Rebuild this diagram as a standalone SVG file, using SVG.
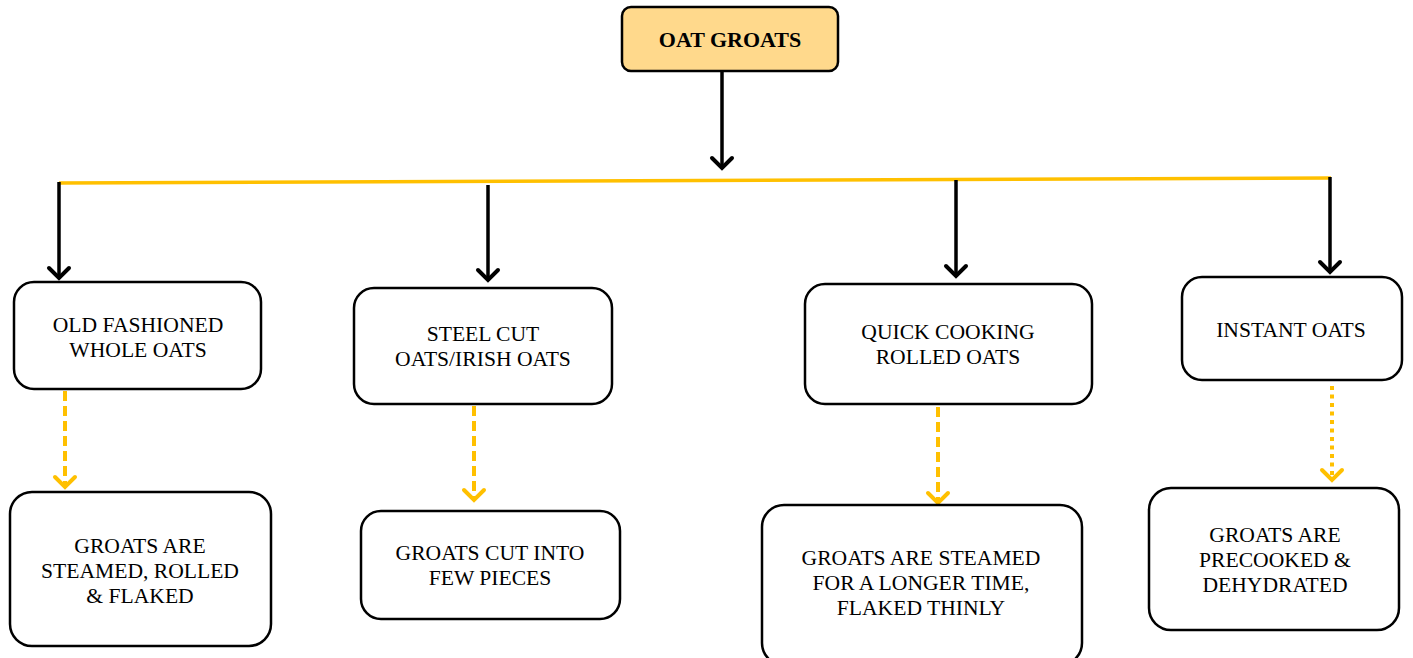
<svg xmlns="http://www.w3.org/2000/svg" width="1413" height="658" viewBox="0 0 1413 658">
<style>
.box{fill:#fff;stroke:#000;stroke-width:2.5}
.top{fill:#FFD98C;stroke:#000;stroke-width:2.5}
.t{font-family:"Liberation Serif","Times New Roman",serif;font-size:21.6px;fill:#000;text-anchor:middle}
.tb{font-family:"Liberation Serif","Times New Roman",serif;font-size:22px;font-weight:bold;fill:#000;text-anchor:middle}
.blk{stroke:#000;stroke-width:3.5;fill:none}
.yel{stroke:#FFC000;stroke-width:3.5;fill:none}
.dash{stroke:#FFC000;stroke-width:4;fill:none;stroke-dasharray:10 5}
.dot{stroke:#FFC000;stroke-width:4;fill:none;stroke-dasharray:4 4.5}
</style>
<defs>
<marker id="ab" markerUnits="userSpaceOnUse" viewBox="-14 -14 28 28" markerWidth="28" markerHeight="28" refX="0" refY="0" orient="auto">
<path d="M-11,-10 L-1,0 L-11,10" fill="none" stroke="#000" stroke-width="4" stroke-linecap="round" stroke-linejoin="miter"/>
</marker>
<marker id="ay" markerUnits="userSpaceOnUse" viewBox="-14 -14 28 28" markerWidth="28" markerHeight="28" refX="0" refY="0" orient="auto">
<path d="M-11,-10 L-1,0 L-11,10" fill="none" stroke="#FFC000" stroke-width="4" stroke-linecap="round" stroke-linejoin="miter"/>
</marker>
</defs>
<g id="connectors">
<line class="blk" x1="722" y1="72" x2="722" y2="169" marker-end="url(#ab)"/>
<line class="yel" x1="59" y1="183" x2="1331" y2="178"/>
<line class="blk" x1="59" y1="182" x2="59" y2="279" marker-end="url(#ab)"/>
<line class="blk" x1="488" y1="185" x2="488" y2="281" marker-end="url(#ab)"/>
<line class="blk" x1="956" y1="180" x2="956" y2="277" marker-end="url(#ab)"/>
<line class="blk" x1="1330" y1="177" x2="1330" y2="273" marker-end="url(#ab)"/>
<line class="dash" x1="65" y1="391" x2="65" y2="488" marker-end="url(#ay)"/>
<line class="dash" x1="474" y1="406" x2="474" y2="501" marker-end="url(#ay)"/>
<line class="dash" x1="938" y1="407" x2="938" y2="504" marker-end="url(#ay)"/>
<line class="dot" x1="1332" y1="386" x2="1332" y2="481" marker-end="url(#ay)"/>
</g>
<g id="oat-groats">
<rect class="top" x="622" y="7" width="216" height="64" rx="9"/>
<text class="tb" x="730" y="47">OAT GROATS</text>
</g>
<g id="old-fashioned">
<rect class="box" x="14" y="282" width="247" height="107" rx="20"/>
<text class="t" x="138" y="332">OLD FASHIONED</text>
<text class="t" x="138" y="357">WHOLE OATS</text>
</g>
<g id="steel-cut">
<rect class="box" x="354" y="288" width="258" height="116" rx="20"/>
<text class="t" x="483" y="341">STEEL CUT</text>
<text class="t" x="483" y="366">OATS/IRISH OATS</text>
</g>
<g id="quick-cooking">
<rect class="box" x="805" y="284" width="287" height="120" rx="20"/>
<text class="t" x="948" y="339">QUICK COOKING</text>
<text class="t" x="948" y="364">ROLLED OATS</text>
</g>
<g id="instant">
<rect class="box" x="1182" y="277" width="220" height="103" rx="20"/>
<text class="t" x="1291" y="337">INSTANT OATS</text>
</g>
<g id="steamed-rolled">
<rect class="box" x="10" y="492" width="261" height="154" rx="22"/>
<text class="t" x="140" y="553">GROATS ARE</text>
<text class="t" x="140" y="578">STEAMED, ROLLED</text>
<text class="t" x="140" y="603">&amp; FLAKED</text>
</g>
<g id="cut-pieces">
<rect class="box" x="361" y="511" width="259" height="108" rx="20"/>
<text class="t" x="490" y="560">GROATS CUT INTO</text>
<text class="t" x="490" y="585">FEW PIECES</text>
</g>
<g id="steamed-longer">
<rect class="box" x="762" y="505" width="320" height="160" rx="22"/>
<text class="t" x="921" y="565">GROATS ARE STEAMED</text>
<text class="t" x="921" y="590">FOR A LONGER TIME,</text>
<text class="t" x="921" y="615">FLAKED THINLY</text>
</g>
<g id="precooked">
<rect class="box" x="1149" y="488" width="250" height="142" rx="22"/>
<text class="t" x="1275" y="542">GROATS ARE</text>
<text class="t" x="1275" y="567">PRECOOKED &amp;</text>
<text class="t" x="1275" y="592">DEHYDRATED</text>
</g>
</svg>
